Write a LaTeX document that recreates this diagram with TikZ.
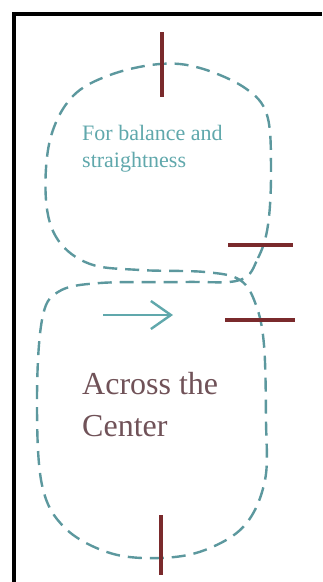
\documentclass[tikz,border=0pt]{standalone}
\usepackage{fontspec}
\setmainfont{Liberation Serif}
\usetikzlibrary{arrows.meta,positioning}
\definecolor{loopteal}{RGB}{92,152,158}
\definecolor{textteal}{RGB}{96,168,172}
\definecolor{barred}{RGB}{122,42,44}
\definecolor{centergray}{RGB}{112,82,88}

\begin{document}
\begin{tikzpicture}[x=1pt,y=-1pt,
   loopline/.style={loopteal,line width=2.4pt,dash pattern=on 14pt off 8pt},
   markbar/.style={barred,line width=4pt},
   note/.style={anchor=north west,align=left,inner sep=0pt}]
  \useasboundingbox (0,0) rectangle (322,582);
  \fill[white] (0,0) rectangle (322,582);
  % frame
  \draw[line width=4pt] (14,582) -- (14,14) -- (322,14);
  % figure eight
  \draw[loopline] plot[smooth cycle,tension=0.6] coordinates {
    (240,280) (258,258) (268,225) (271,170) (267,115) (245,88) (200,68)
    (160,64) (110,75) (72,97) (50,140) (46,200) (58,240) (90,264)
    (140,270) (205,272) (240,280) (256,305) (264,345) (266,420)
    (265,480) (245,525) (205,550) (160,558) (110,553) (65,528)
    (42,485) (37,400) (42,320) (58,292) (100,283) (185,282)};
  % marks
  \coordinate (topa) at (162,32);   \coordinate (topb) at (162,97);
  \coordinate (upa) at (228,245);   \coordinate (upb) at (293,245);
  \coordinate (lowa) at (225,320);  \coordinate (lowb) at (295,320);
  \coordinate (bota) at (161,515);  \coordinate (botb) at (161,575);
  \draw[markbar] (topa) -- (topb);
  \draw[markbar] (upa) -- (upb);
  \draw[markbar] (lowa) -- (lowb);
  \draw[markbar] (bota) -- (botb);
  % labels
  \node[note,text=textteal,font=\fontsize{22}{27}\selectfont] (balance) at (82,125) {For balance and\\straightness};
  \node[note,text=centergray,font=\fontsize{32}{42}\selectfont] (center) at (82,372) {Across the\\Center};
  \coordinate (dirfrom) at (103,315);
  \coordinate (dirto) at (173,315);
  \draw[textteal,line width=2.4pt,-{Straight Barb[length=20pt,width=28pt]}] (dirfrom) -- (dirto);
\end{tikzpicture}
\end{document}
